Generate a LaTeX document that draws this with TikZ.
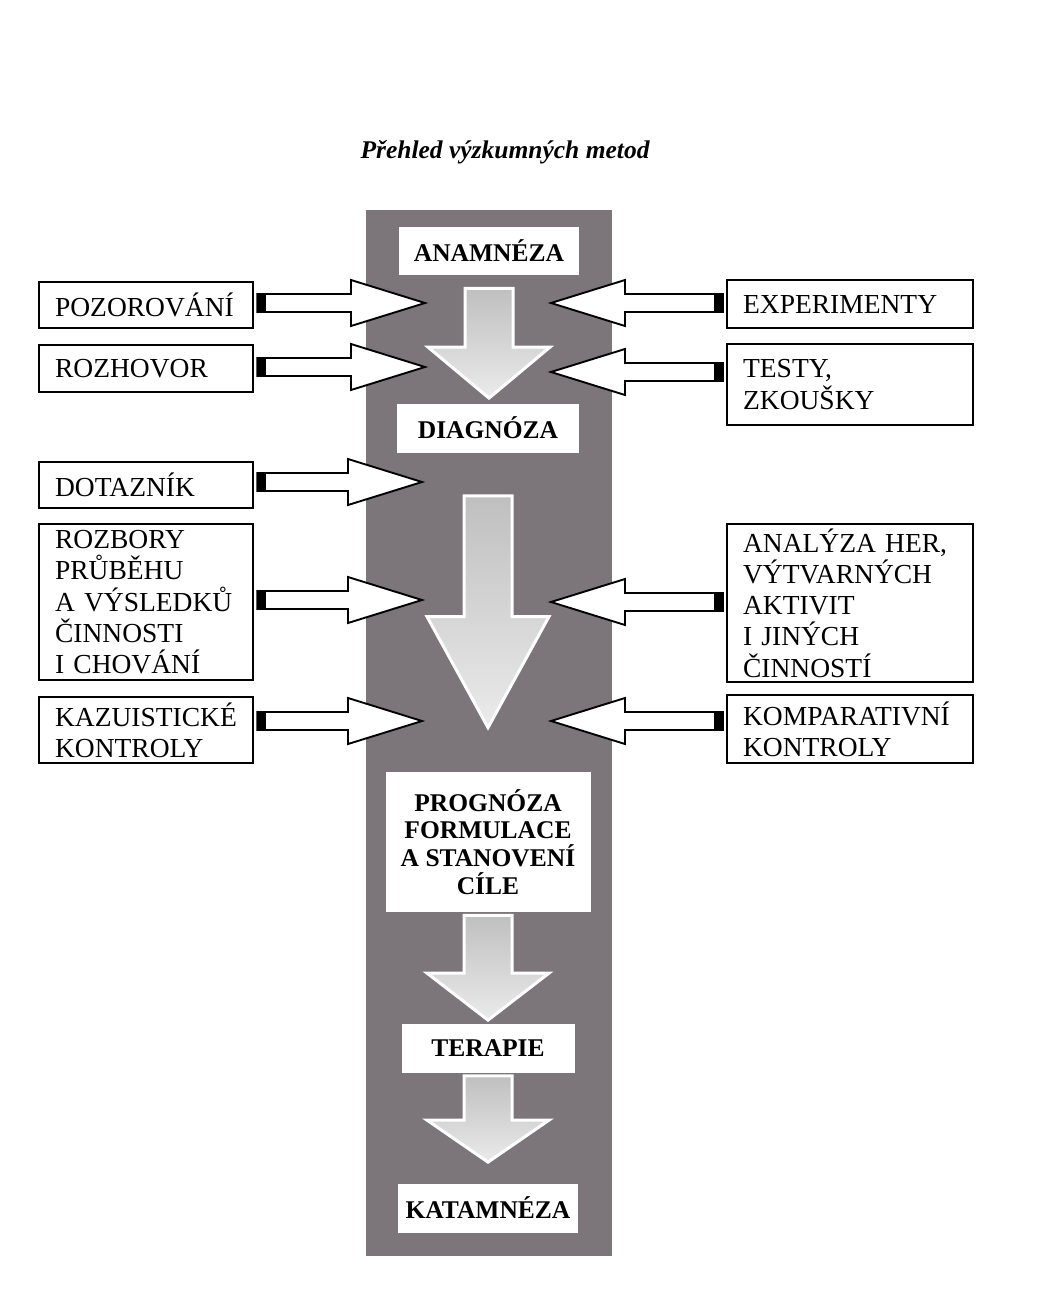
\documentclass[tikz,border=0pt]{standalone}
\usepackage{fontspec}
\setmainfont{Liberation Serif}
\usetikzlibrary{calc}

\definecolor{colgray}{RGB}{124,117,121}

\tikzset{every picture/.style={line width=0.75pt}}
\tikzset{
  method/.style={draw, line width=2.2pt, fill=white, anchor=north west, align=left,
    inner xsep=16pt, inner ysep=0pt, font=\fontsize{27.5}{31.2}\selectfont},
  leftmethod/.style={method, text width=182pt},
  rightmethod/.style={method, text width=214pt},
  stage/.style={fill=white, inner sep=0pt, align=center,
    font=\bfseries\fontsize{25.5}{27.7}\selectfont},
  inarrow/.style={draw=black, fill=white, line width=1.9pt, line join=miter},
  flowarrow/.style={draw=white, line width=3pt, line join=miter,
    top color=black!25, bottom color=black!8}
}

% block arrow: #1 style, #2 tail, #3 tip, #4 half shaft, #5 half head, #6 head length
\newcommand{\blockarrow}[6]{%
  \coordinate (ta) at (#2);
  \coordinate (tp) at (#3);
  \coordinate (hb) at ($(tp)!#6!(ta)$);
  \path[#1] ($(ta)!#4!90:(tp)$) -- ($(hb)!#4!90:(tp)$) -- ($(hb)!#5!90:(tp)$) -- (tp)
    -- ($(hb)!#5!-90:(tp)$) -- ($(hb)!#4!-90:(tp)$) -- ($(ta)!#4!-90:(tp)$) -- cycle;
}
% white arrow from a method box into the column, black block at its tail
\newcommand{\sidearrow}[2]{%
  \coordinate (st) at ($(#1)!3pt!(#2)$);
  \blockarrow{inarrow}{st}{#2}{9pt}{23pt}{74pt}
  \coordinate (sb) at ($(st)!9pt!(#2)$);
  \fill ($(st)!9.5pt!90:(#2)$) rectangle ($(sb)!9.5pt!-90:(#2)$);
}
% grey arrow between two stages
\newcommand{\stagearrow}[3]{%
  \blockarrow{flowarrow}{#1}{#2}{24pt}{61pt}{#3}
}

\begin{document}
\begin{tikzpicture}[x=1pt,y=1pt,yscale=-1]
\useasboundingbox (0,0) rectangle (1036,1301);

% Text Node
\node[font=\bfseries\itshape\fontsize{25.5}{30}\selectfont] (title) at (505,152) {Přehled výzkumných metod};

%Shape: Rectangle
\fill[colgray] (366,210) rectangle (612,1256);

% Text Node
\node[stage, minimum width=180, minimum height=48] (anam) at (489,251) {ANAMNÉZA};
\node[stage, minimum width=182, minimum height=49] (diag) at (488,428) {DIAGNÓZA};
\node[stage, minimum width=205, minimum height=140] (progn) at (488,842) {PROGNÓZA\\FORMULACE\\A STANOVENÍ\\CÍLE};
\node[stage, minimum width=173, minimum height=49] (terap) at (488,1048) {TERAPIE};
\node[stage, minimum width=180, minimum height=49] (katam) at (488,1208) {KATAMNÉZA};

%Straight Lines
\stagearrow{[yshift=13pt]anam.south}{[yshift=-5pt]anam.south |- diag.north}{51pt}
\stagearrow{[yshift=43pt]diag.south}{[yshift=-44pt]progn.north}{111pt}
\stagearrow{[yshift=3pt]progn.south}{[yshift=-3pt]terap.north}{47pt}
\stagearrow{[yshift=3pt]terap.south}{[yshift=-21pt]katam.north}{42pt}

%Shape: Rectangle
\node[leftmethod, minimum height=46] (pozor) at (38,281) {POZOROVÁNÍ};
\node[leftmethod, minimum height=47] (rozho) at (38,344) {ROZHOVOR};
\node[leftmethod, minimum height=46] (dotaz) at (38,461) {DOTAZNÍK};
\node[leftmethod, minimum height=156] (rozbo) at (38,523) {ROZBORY\\PRŮBĚHU\\A VÝSLEDKŮ\\ČINNOSTI\\I CHOVÁNÍ};
\node[leftmethod, minimum height=66] (kazui) at (38,696) {KAZUISTICKÉ\\KONTROLY};

\node[rightmethod, minimum height=48] (exper) at (726,279) {EXPERIMENTY};
\node[rightmethod, minimum height=81] (testy) at (726,343) {TESTY,\\ZKOUŠKY};
\node[rightmethod, minimum height=158] (analy) at (726,523) {ANALÝZA HER,\\VÝTVARNÝCH\\AKTIVIT\\I JINÝCH\\ČINNOSTÍ};
\node[rightmethod, minimum height=68] (kompa) at (726,694) {KOMPARATIVNÍ\\KONTROLY};

% arrow tips inside the column
\coordinate (in1) at (425,303);
\coordinate (in2) at (425,367);
\coordinate (in3) at (422,482);
\coordinate (in4) at (422,600);
\coordinate (in5) at (422,721);
\coordinate (in6) at (551,303);
\coordinate (in7) at (551,372);
\coordinate (in8) at (551,602);
\coordinate (in9) at (551,721);

%Straight Lines
\sidearrow{pozor.east |- in1}{in1}
\sidearrow{rozho.east |- in2}{in2}
\sidearrow{dotaz.east |- in3}{in3}
\sidearrow{rozbo.east |- in4}{in4}
\sidearrow{kazui.east |- in5}{in5}
\sidearrow{exper.west |- in6}{in6}
\sidearrow{testy.west |- in7}{in7}
\sidearrow{analy.west |- in8}{in8}
\sidearrow{kompa.west |- in9}{in9}

\end{tikzpicture}
\end{document}
